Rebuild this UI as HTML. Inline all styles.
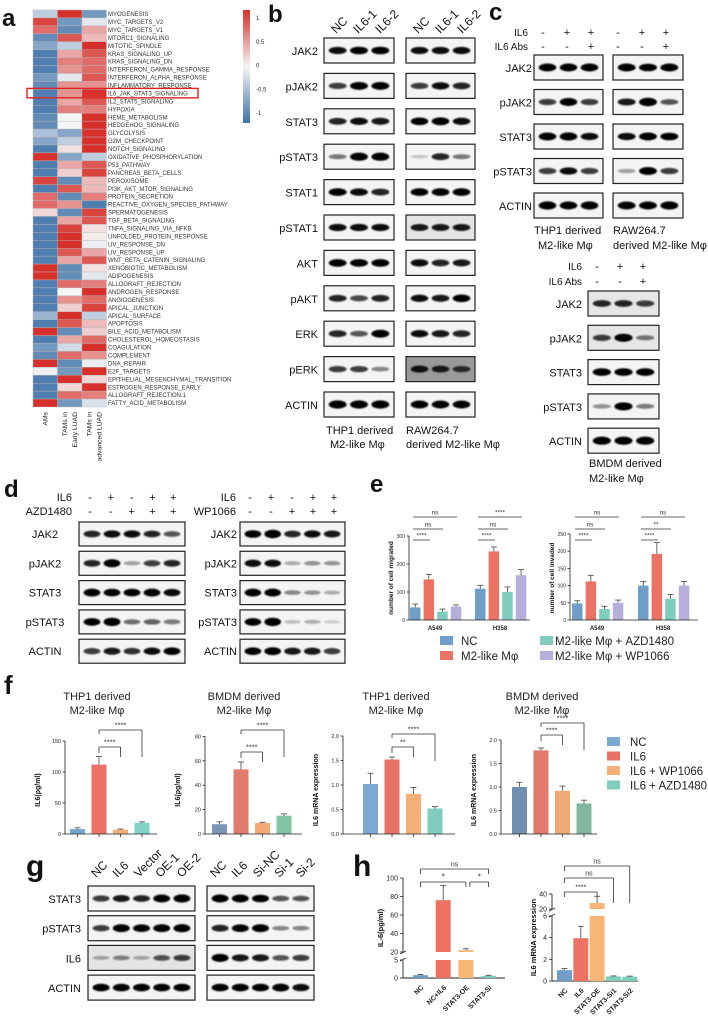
<!DOCTYPE html>
<html><head><meta charset="utf-8">
<style>
html,body{margin:0;padding:0;background:#fff;}
svg{display:block;font-family:"Liberation Sans",Arial,sans-serif;}
</style></head>
<body>
<svg id="fig" xmlns="http://www.w3.org/2000/svg" width="708" height="1017" viewBox="0 0 708 1017">
<defs>
<filter id="bl" x="-20%" y="-100%" width="140%" height="300%"><feGaussianBlur stdDeviation="0.9"/></filter>
<linearGradient id="cb" x1="0" y1="0" x2="0" y2="1">
<stop offset="0" stop-color="#d7302b"/><stop offset="0.5" stop-color="#f5f5f5"/><stop offset="1" stop-color="#3d72a8"/></linearGradient>
</defs>
<g id="root"></g>
</svg>
<script>
// ---------- DATA ----------
const hmRows = ["MYOGENESIS","MYC_TARGETS_V2","MYC_TARGETS_V1","MTORC1_SIGNALING","MITOTIC_SPINDLE","KRAS_SIGNALING_UP","KRAS_SIGNALING_DN","INTERFERON_GAMMA_RESPONSE","INTERFERON_ALPHA_RESPONSE","INFLAMMATORY_RESPONSE","IL6_JAK_STAT3_SIGNALING","IL2_STAT5_SIGNALING","HYPOXIA","HEME_METABOLISM","HEDGEHOG_SIGNALING","GLYCOLYSIS","G2M_CHECKPOINT","NOTCH_SIGNALING","OXIDATIVE_PHOSPHORYLATION","P53_PATHWAY","PANCREAS_BETA_CELLS","PEROXISOME","PI3K_AKT_MTOR_SIGNALING","PROTEIN_SECRETION","REACTIVE_OXYGEN_SPECIES_PATHWAY","SPERMATOGENESIS","TGF_BETA_SIGNALING","TNFA_SIGNALING_VIA_NFKB","UNFOLDED_PROTEIN_RESPONSE","UV_RESPONSE_DN","UV_RESPONSE_UP","WNT_BETA_CATENIN_SIGNALING","XENOBIOTIC_METABOLISM","ADIPOGENESIS","ALLOGRAFT_REJECTION","ANDROGEN_RESPONSE","ANGIOGENESIS","APICAL_JUNCTION","APICAL_SURFACE","APOPTOSIS","BILE_ACID_METABOLISM","CHOLESTEROL_HOMEOSTASIS","COAGULATION","COMPLEMENT","DNA_REPAIR","E2F_TARGETS","EPITHELIAL_MESENCHYMAL_TRANSITION","ESTROGEN_RESPONSE_EARLY","ALLOGRAFT_REJECTION.1","FATTY_ACID_METABOLISM"];
const hmAMs   = [-0.3,0.9,0.7,-0.8,-0.6,-0.9,-0.9,-0.9,-0.7,-0.8,-0.9,-0.9,-0.9,-0.8,-0.8,-0.4,-0.6,-0.9,1,-0.9,-0.9,0.9,-0.9,0.7,0.7,0.15,-0.9,-0.9,-0.9,-0.9,-0.9,-0.9,1,1,-0.9,-0.9,-0.9,-0.9,-0.5,-0.9,1,-0.9,-0.7,-0.8,1,-0.05,-0.9,-0.9,-0.9,1];
const hmEarly = [1,-0.7,-0.8,0.8,-0.3,0.4,0.6,0.5,-0.1,0.5,0.5,0.4,0.6,0,0,-0.6,-0.3,0.1,-0.6,0.4,0.2,-0.8,0.8,-0.8,0.5,-0.8,0.4,0.9,1,1,0.8,0.4,-0.8,-0.8,0.7,0,0.5,0.2,1,0.8,-0.8,0.4,-0.2,0.7,-0.8,-0.7,1,0.15,0.7,-0.7];
const hmAdv   = [-0.7,-0.1,0.4,0.3,1,0.8,0.7,0.7,0.8,0.5,1,0.8,0.6,1,1,1,1,1,-0.3,0.8,0.9,0.3,0.3,0.6,-0.9,0.9,0.8,0.1,0.05,-0.05,0.4,0.8,0.1,-0.1,0.6,1,0.7,0.9,-0.3,0.3,0.2,0.7,1,0.5,-0.05,1,0.15,1,0.6,-0.15];
const hmCols = ["AMs","TAMs in|Early LUAD","TAMs in|advanced LUAD"];
const cbTicks = [1,0.5,0,-0.5,-1];

// panel e
const eGroups = ["A549","H358"];
const eSeries = ["NC","M2-like Mφ","M2-like Mφ + AZD1480","M2-like Mφ + WP1066"];
const eMigA549 = [45,145,30,48];
const eMigH358 = [112,245,100,160];
const eMigErrA549 = [12,18,9,6];
const eMigErrH358 = [12,16,18,20];
const eInvA549 = [48,112,32,50];
const eInvH358 = [100,192,62,100];
const eInvErrA549 = [8,18,8,8];
const eInvErrH358 = [12,33,12,12];
const eMigTicks = [0,100,200,300];
const eInvTicks = [0,50,100,150,200,250];

// panel f
const fCats = ["NC","IL6","IL6 + WP1066","IL6 + AZD1480"];
const f1Vals = [8,112,7,18];   const f1Err = [2,13,1,1.5];
const f2Vals = [8,53,9,15];    const f2Err = [2,6,0.6,1.5];
const f3Vals = [1.02,1.52,0.82,0.52]; const f3Err = [0.22,0.05,0.13,0.04];
const f4Vals = [1.0,1.78,0.92,0.65];  const f4Err = [0.1,0.05,0.1,0.07];
const f1Ticks = [0,50,100,150];
const f2Ticks = [0,20,40,60,80];
const f3Ticks = [0,0.5,1.0,1.5,2.0];

// panel h
const h1Cats = ["NC","NC+IL6","STAT3-OE","STAT3-Si"];
const h1Vals = [0.8,76,22,0.6]; const h1Err = [0.2,16,1.5,0.15];
const h2Cats = ["NC","IL6","STAT3-OE","STAT3-Si1","STAT3-Si2"];
const h2Vals = [1.0,3.95,28,0.42,0.4]; const h2Err = [0.15,1.1,9,0.05,0.05];
const h1Ticks = [0,5,20,40,60,80,100];
const h2Ticks = [0,2,4,6,20,40];

// ---------- HELPERS ----------
const NS="http://www.w3.org/2000/svg";
const root=document.getElementById('root');
function mk(tag,attrs,parent){const e=document.createElementNS(NS,tag);for(const k in attrs)e.setAttribute(k,attrs[k]);(parent||root).appendChild(e);return e;}
function txt(x,y,s,size,opts,parent){opts=opts||{};const e=mk('text',Object.assign({x:x,y:y,'font-size':size,fill:opts.fill||'#111','text-anchor':opts.anchor||'start'},opts.extra||{}),parent);e.textContent=s;return e;}
function hmColor(v){const r=[61,114,168],w=[245,245,245],b=[215,48,43];let a,c,t;if(v<0){a=w;c=r;t=-v;}else{a=w;c=b;t=v;}return 'rgb('+a.map((q,i)=>Math.round(q+(c[i]-q)*t)).join(',')+')';}

// ---------- PANEL A ----------
let t=txt(2,26,"a",24,{extra:{'font-weight':'bold'}});

const hmTop=10,rowH=7.94,colX=[33,57.5,82],colW=24.5;
const hmSeries=[hmAMs,hmEarly,hmAdv];
const hmG=mk('g',{});

hmRows.forEach((name,i)=>{
  hmSeries.forEach((ser,j)=>{
    const c=mk('rect',{x:colX[j],y:hmTop+i*rowH,width:colW,height:rowH,fill:hmColor(ser[i]),stroke:'#b8b8b8','stroke-width':0.4},hmG);
    
    
  });
  const l=txt(108,hmTop+i*rowH+rowH/2+2.1,name,6,{fill:'#333'});
  
  
});
const hl=mk('rect',{x:27,y:hmTop+10*rowH-1,width:171,height:rowH+1.5,fill:'none',stroke:'#e02020','stroke-width':1.4});

hmCols.forEach((c,j)=>{
  const parts=c.split('|');
  parts.forEach((p,k)=>{
    const xx=colX[j]+colW/2+(parts.length===1?2:(k===0?-3:7));
    const e=txt(xx,412,p,6.8,{anchor:'end',fill:'#222',extra:{transform:'rotate(-90 '+xx+' 412)'}});
    
    
  });
});
const cbr=mk('rect',{x:243,y:10,width:7,height:113,fill:'url(#cb)'});

cbTicks.forEach(v=>{const yy=10+(1-v)/2*113*0.9+8*(1-v)/2*0+ (1-v)/2*0; const y2=18+(1-v)/2*95;
  const e=txt(256,y2+2,String(v),6,{fill:'#333'});
  
  });

// ---------- BLOTS ----------
function blot(name,x,y,w,h,ints,opts){
  opts=opts||{};
  const g=mk('g',{});
  
  
  mk('rect',{x:x,y:y,width:w,height:h,fill:opts.bg||'#f4f4f4',stroke:'#222','stroke-width':1.2},g);
  const n=ints.length,lw=(w-6)/n;
  ints.forEach((v,i)=>{
    const cx=x+3+lw*(i+0.5);
    const b=mk('ellipse',{cx:cx,cy:y+h/2,rx:lw*0.42,ry:1.6+v*2.6,fill:'#000','fill-opacity':Math.min(1,0.15+v),filter:'url(#bl)'},g);
    
    
  });
  return g;
}
function label(s,x,y,anchor,size,name){const e=txt(x,y,s,size||11,{anchor:anchor||'end',fill:'#111'});return e;}

// panel b
t=txt(268,22,"b",24,{extra:{'font-weight':'bold'}});
const bRows=["JAK2","pJAK2","STAT3","pSTAT3","STAT1","pSTAT1","AKT","pAKT","ERK","pERK","ACTIN"];
const bL=[[.8,.85,.85],[.6,.9,.9],[.7,.8,.75],[.35,.95,.95],[.85,.8,.7],[.8,.8,.8],[.85,.85,.85],[.7,.55,.7],[.7,.5,.9],[.6,.6,.3],[.95,.95,.95]];
const bR=[[.8,.8,.8],[.6,.8,.7],[.85,.9,.8],[.05,.7,.35],[.85,.85,.85],[.75,.75,.75],[.8,.7,.75],[.8,.75,.85],[.8,.75,.7],[.75,.7,.6],[.9,.9,.9]];
bRows.forEach((r,i)=>{const y=38+i*35.4;
  blot('blot-b-thp1-'+r.toLowerCase(),324,y,70,25,bL[i]);
  blot('blot-b-raw-'+r.toLowerCase(),406,y,69,25,bR[i],{bg:r==='pERK'?'#9a9a9a':(r==='pSTAT1'?'#e4e4e4':'#f4f4f4')});
  label(r,318,y+17);});
["NC","IL6-1","IL6-2"].forEach((s,i)=>{[336,418].forEach(x0=>{const xx=x0+i*22;const e=txt(xx,34,s,12,{extra:{transform:'rotate(-45 '+xx+' 34)'}});});});
label("THP1 derived",326,434,'start',11,'caption');label("M2-like Mφ",330,448,'start',11,'caption');
label("RAW264.7",406,434,'start',11,'caption');label("derived M2-like Mφ",406,448,'start',11,'caption');

// panel c
t=txt(489,20,"c",24,{extra:{'font-weight':'bold'}});
label("IL6",528,36,'end',10);label("IL6 Abs",528,50,'end',10);
[["-","+","+"],["-","-","+"]].forEach((row,ri)=>{row.forEach((s,i)=>{[543,618].forEach(x0=>{const e=txt(x0+i*24,36+ri*14,s,11,{anchor:'middle'});});});});
const cRows=["JAK2","pJAK2","STAT3","pSTAT3","ACTIN"];
const cT=[[.9,.9,.9],[.6,.9,.6],[.9,.95,.8],[.6,.8,.6],[.95,.9,.95]];
const cRw=[[.9,.85,.9],[.75,1,.5],[.8,.9,.85],[.2,.9,.6],[.9,.9,.95]];
const cB=[[.7,.7,.6],[.6,.95,.35],[.85,.85,.85],[.25,.95,.35],[.95,.95,.95]];
cRows.forEach((r,i)=>{const y=55+i*34.5;
  blot('blot-c-thp1-'+r.toLowerCase(),534,y,69,25,cT[i]);
  blot('blot-c-raw-'+r.toLowerCase(),613,y,70,25,cRw[i]);
  label(r,532,y+17);
  const yb=291+i*34.3;
  blot('blot-c-bmdm-'+r.toLowerCase(),588,yb,71,25,cB[i],{bg:i<2?'#e6e6e6':'#f4f4f4'});
  label(r,582,yb+17);});
label("THP1 derived",534,234,'start',11,'caption');label("M2-like Mφ",538,249,'start',11,'caption');
label("RAW264.7",613,234,'start',11,'caption');label("derived M2-like Mφ",613,249,'start',11,'caption');
label("IL6",582,270,'end',10);label("IL6 Abs",582,285,'end',10);
[["-","+","+"],["-","-","+"]].forEach((row,ri)=>{row.forEach((s,i)=>{const e=txt(597+i*23,270+ri*15,s,11,{anchor:'middle'});});});
label("BMDM derived",589,467,'start',11,'caption');label("M2-like Mφ",589,482,'start',11,'caption');

// panel d
t=txt(4,497,"d",24,{extra:{'font-weight':'bold'}});
label("IL6",72,501,'end',11);label("AZD1480",72,515,'end',11);
label("IL6",236,501,'end',11);label("WP1066",236,515,'end',11);
[["-","+","-","+","+"],["-","-","+","+","+"]].forEach((row,ri)=>{row.forEach((s,i)=>{
  let e=txt(90+i*20.8,501+ri*14,s,11,{anchor:'middle'});
  e=txt(250+i*21,501+ri*14,s,11,{anchor:'middle'});});});
const dRows=["JAK2","pJAK2","STAT3","pSTAT3","ACTIN"];
const dL=[[.7,.8,.8,.7,.5],[.7,.95,.2,.6,.7],[.9,.85,.85,.9,.8],[.85,1,.4,.45,.35],[.6,.75,.65,.8,.85]];
const dR=[[.85,1,.7,.8,.75],[.8,.8,.15,.25,.25],[.9,.9,.3,.25,.15],[.85,1,.08,.15,.02],[.85,.9,.75,.75,.6]];
dRows.forEach((r,i)=>{const y=522+i*29.3;
  blot('blot-d-azd-'+r.toLowerCase(),79,y,106,24,dL[i]);
  blot('blot-d-wp-'+r.toLowerCase(),240,y,105,24,dR[i]);
  label(r,45,y+16,'middle');label(r,237,y+16,'end');});

// panel g
t=txt(26,876,"g",30,{extra:{'font-weight':'bold'}});
["NC","IL6","Vector","OE-1","OE-2"].forEach((s,i)=>{const xx=96+i*21.4;const e=txt(xx,878,s,12,{extra:{transform:'rotate(-45 '+xx+' 878)'}});});
["NC","IL6","Si-NC","Si-1","Si-2"].forEach((s,i)=>{const xx=215+i*21.4;const e=txt(xx,878,s,12,{extra:{transform:'rotate(-45 '+xx+' 878)'}});});
const gRows=["STAT3","pSTAT3","IL6","ACTIN"];
const gL=[[.6,.75,.7,.9,.95],[.6,.9,.85,.9,.95],[.15,.3,.15,.5,.6],[.85,.85,.85,.85,.85]];
const gR=[[.9,.9,.85,.5,.5],[.7,.85,.9,.3,.3],[.95,.75,.75,.5,.6],[.85,.85,.85,.9,.8]];
gRows.forEach((r,i)=>{const y=886+i*29.7;
  blot('blot-g-oe-'+r.toLowerCase(),88,y,107,25,gL[i],{bg:r==='IL6'?'#e4e4e4':'#f4f4f4'});
  blot('blot-g-si-'+r.toLowerCase(),207,y,107,25,gR[i]);
  label(r,81,y+17,'end',11);});

// ---------- CHART HELPERS ----------
function line(x1,y1,x2,y2,col,w,name,p){const e=mk('line',{x1:x1,y1:y1,x2:x2,y2:y2,stroke:col||'#222','stroke-width':w||0.8},p);return e;}
function bar(x,y0,y1,w,col,name,p){const e=mk('rect',{x:x,y:Math.min(y0,y1),width:w,height:Math.abs(y0-y1),fill:col},p);return e;}
function errbar(cx,yv,ye,p){line(cx,yv,cx,ye,'#444',0.8,'error-bar',p);line(cx-3,ye,cx+3,ye,'#444',0.8,'error-cap',p);}
function sig(x1,x2,y,s,drop,p,size){const g=mk('g',{},p);
  line(x1,y,x2,y,'#333',0.8,'bracket-line',g);if(drop){line(x1,y,x1,y+drop[0],'#333',0.8,'bracket-line',g);line(x2,y,x2,y+drop[1],'#333',0.8,'bracket-line',g);}
  const e=txt((x1+x2)/2,y-2.5,s,size||7,{anchor:'middle',fill:'#333'},g);}
function yAxis(ax,yTop,yBot,ticks,map,size,fmt){line(ax,yTop,ax,yBot);ticks.forEach(v=>{const y=map(v);line(ax-2.5,y,ax,y,'#222',0.8,'y-tick');const e=txt(ax-4,y+2,fmt?fmt(v):String(v),size||5.5,{anchor:'end',fill:'#222'});});}
function yTitle(s,x,y,size){const e=txt(x,y,s,size||7,{anchor:'middle',fill:'#111',extra:{transform:'rotate(-90 '+x+' '+y+')','font-weight':'bold'}});return e;}

// ---------- PANEL E ----------
t=txt(370,492,"e",24,{extra:{'font-weight':'bold'}});
const eCols=["#6f9fc8","#ec7264","#80cdbd","#b7aedb"];
function eChart(ax,scale,endX,groupStarts,vals,errs,ticks,title,sigSets){
  const base=620,map=v=>base-v*scale;
  const g=mk('g',{});
  yAxis(ax,map(ticks[ticks.length-1]),base,ticks,map,5);
  line(ax,base,endX,base);
  groupStarts.forEach((gx,gi)=>{
    vals[gi].forEach((v,i)=>{const x=gx+i*13.6;bar(x,base,map(v),10.5,eCols[i],'bar-'+eGroups[gi].toLowerCase()+'-'+i,g);errbar(x+5.25,map(v),map(v+errs[gi][i]),g);});
    const e=txt(gx+25,630,eGroups[gi],6,{anchor:'middle',fill:'#222',extra:{'font-weight':'bold'}});
    sigSets[gi].forEach((s,k)=>{sig(gx+3,gx+3+[17,30,44][k],[540,529,517][k],s,null,g,6.5);});
  });
  yTitle(title,ax-16,578,6.5);
}
eChart(409,0.28,530,[410,475],[eMigA549,eMigH358],[eMigErrA549,eMigErrH358],eMigTicks,"number of cell migrated",[["****","ns","ns"],["****","ns","****"]]);
eChart(570,0.344,698,[572,638],[eInvA549,eInvH358],[eInvErrA549,eInvErrH358],eInvTicks,"number of cell invaded",[["****","ns","ns"],["****","**","ns"]]);
eSeries.forEach((s,i)=>{const x=i<2?440:540,y=i<2?[636,651][i]:[636,651][i-2];
  const r=mk('rect',{x:x,y:y,width:13,height:9,fill:eCols[[0,1,2,3][i]]});
  const e=txt(x+(i<2?21:15),y+9,s,11.5,{fill:'#222'});});

// ---------- PANEL F ----------
t=txt(4,694,"f",26,{extra:{'font-weight':'bold'}});
const fColSets=[["#74a6d0","#ec7366","#f5ae7a","#82d0c6"],["#7c94b8","#e07a6c","#f3a876","#84c4a6"],["#7ba9d2","#ea7264","#f5b07a","#80cdbd"],["#6f8fb0","#df7a6c","#f0a877","#7fb8a0"]];
function fChart(k,ax,firstX,endX,vals,errs,ticks,scale,titleX,ytitle,fmt,sigs){
  const base=834,map=v=>base-v*scale;
  const g=mk('g',{});
  let e=txt(titleX,700,(k%2===0?"THP1 derived":"BMDM derived"),11,{anchor:'middle',fill:'#222'},g);
  e=txt(titleX,714,"M2-like Mφ",11,{anchor:'middle',fill:'#222'},g);
  yAxis(ax,map(ticks[ticks.length-1]),base,ticks,map,5.5,fmt);
  line(ax,base,endX,base);
  const cx=[];
  vals.forEach((v,i)=>{const x=firstX+i*21.5;cx.push(x+7.5);bar(x,base,map(v),15,fColSets[k][i],'bar-'+fCats[i].toLowerCase().replace(/[ +]+/g,'-'),g);errbar(x+7.5,map(v),map(v+errs[i]),g);line(x+7.5,base,x+7.5,base+3,'#222',0.8,'x-tick',g);});
  sig(cx[1],cx[2],sigs[0][1],sigs[0][0],[6,10],g,7.5);
  sig(cx[1],cx[3],sigs[1][1],sigs[1][0],[4,27],g,7.5);
  yTitle(ytitle,ax-25,790,7);
}
fChart(0,65,70,157,f1Vals,f1Err,f1Ticks,0.62,97,"IL6(pg/ml)",null,[["****",747],["****",730]]);
fChart(1,205,212,302,f2Vals,f2Err,f2Ticks,1.22,244,"IL6(pg/ml)",null,[["****",752],["****",730]]);
fChart(2,343,363,455,f3Vals,f3Err,f3Ticks,49,396,"IL6 mRNA expression",v=>v.toFixed(1),[["**",747],["****",734]]);
fChart(3,501,512,597,f4Vals,f4Err,f3Ticks,47,542,"IL6 mRNA expression",v=>v.toFixed(1),[["****",735],["****",723]]);
fCats.forEach((s,i)=>{const y=737+i*14.5;
  const r=mk('rect',{x:607,y:y,width:13,height:9,fill:fColSets[2][i]});
  const e=txt(630,y+9,s,11.5,{fill:'#222'});});

// ---------- PANEL H ----------
t=txt(353,876,"h",30,{extra:{'font-weight':'bold'}});
const hCols=["#6f9fc8","#ec7264","#f5b676","#7fcdbd","#7fcdbd"];
function hChart(name,ax,firstX,pitch,endX,cats,vals,errs,ticks,base,lowMax,lowTop,upMin,upBot,upMax,upTop,ytitle,tx){
  const mapLow=v=>base-(v/lowMax)*(base-lowTop);
  const mapUp=v=>upBot-(v-upMin)/(upMax-upMin)*(upBot-upTop);
  const map=v=>v<=lowMax?mapLow(v):(v<upMin?lowTop:mapUp(v));
  const g=mk('g',{});
  line(ax,base,ax,lowTop,'#222',0.9,'y-axis-lower',g);line(ax,upBot,ax,upTop,'#222',0.9,'y-axis-upper',g);
  line(ax-3,lowTop+1,ax+3,lowTop-2,'#222',0.8,'axis-break',g);line(ax-3,upBot+2,ax+3,upBot-1,'#222',0.8,'axis-break',g);
  ticks.forEach(v=>{const y=map(v);line(ax-3,y,ax,y,'#222',0.8,'y-tick',g);const e=txt(ax-5,y+2.5,String(v),7,{anchor:'end',fill:'#222'},g);});
  line(ax,base,endX,base,'#222',0.9,'x-axis',g);
  const cx=[];
  vals.forEach((v,i)=>{const x=firstX+i*pitch;cx.push(x+7.5);const c=hCols[i];
    if(v<=lowMax){bar(x,base,map(v),15,c,'bar-'+cats[i].toLowerCase(),g);}
    else{bar(x,base,lowTop,15,c,'bar-'+cats[i].toLowerCase()+'-lower',g);bar(x,upBot,mapUp(v),15,c,'bar-'+cats[i].toLowerCase()+'-upper',g);}
    errbar(x+7.5,map(v),map(v+errs[i]),g);
    const xx=x+11,yy=base+10;const e=txt(xx,yy,cats[i],7,{anchor:'end',fill:'#222',extra:{transform:'rotate(-45 '+xx+' '+yy+')','font-weight':'bold'}},g);});
  yTitle(ytitle,tx,(base+upTop)/2,7.5);
  return cx;
}
let hc=hChart('chart-h-il6-elisa',403,413,22.7,505,h1Cats,h1Vals,h1Err,h1Ticks,978,5,960,20,952,100,878,"IL-6(pg/ml)",383);
sig(hc[0],hc[3],869,"ns",[5,5],null,7);
sig(hc[0],hc[2],882,"*",[5,5],null,8);
sig(hc[2]+4,hc[3],882,"*",[5,5],null,8);
hc=hChart('chart-h-il6-mrna',552,557,16.3,638,h2Cats,h2Vals,h2Err,h2Ticks,981,6,916,20,909,40,894,"IL6 mRNA expression",536);
sig(hc[0],hc[2],892,"****",[5,5],null,7);
sig(hc[0],hc[3],878,"ns",[5,25],null,7);
sig(hc[0],hc[4],866,"ns",[5,37],null,7);
</script>
</body></html>
